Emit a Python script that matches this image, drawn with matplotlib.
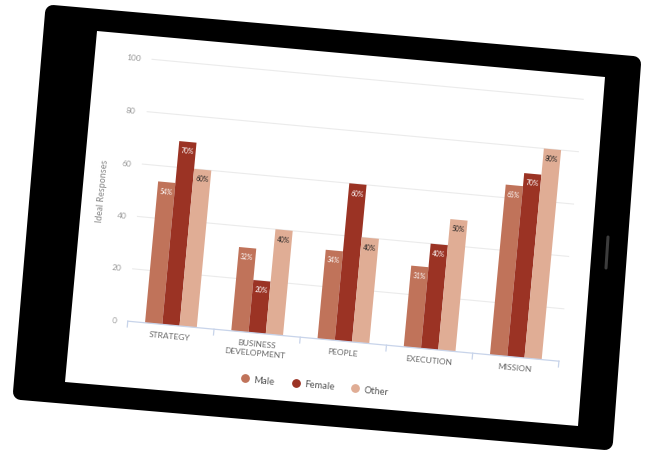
import numpy as np
import matplotlib
matplotlib.use('Agg')
import matplotlib.pyplot as plt
from matplotlib.patches import Polygon
from matplotlib.transforms import Affine2D

# Данные графика
categories = ['STRATEGY', 'BUSINESS\nDEVELOPMENT', 'PEOPLE', 'EXECUTION', 'MISSION']
male = [54, 32, 34, 31, 65]
female = [70, 20, 60, 40, 70]
other = [60, 40, 40, 50, 80]
series_names = ['Male', 'Female', 'Other']
series_colors = ['#c0735a', '#9b3324', '#e0ad95']
label_colors = ['white', 'white', '#222222']
y_ticks = [0, 20, 40, 60, 80, 100]
y_label = 'Ideal Responses'

plt.rcParams['font.family'] = ['Lato', 'DejaVu Sans']

W, H = 646, 452
fig = plt.figure(figsize=(W / 100, H / 100), dpi=100)
fig.patch.set_facecolor('white')

# Tablet frame (decoration, pixel coords, y down)
bg = fig.add_axes([0, 0, 1, 1])
bg.set_xlim(0, W)
bg.set_ylim(H, 0)
bg.axis('off')
outer = Polygon([(53, 14), (633, 65), (605, 443), (21, 393)], closed=True,
                facecolor='black', edgecolor='black', linewidth=11.5, joinstyle='round')
bg.add_patch(outer)
screen = Polygon([(97, 32), (605, 78), (578, 427), (65, 383)], closed=True,
                 facecolor='white', edgecolor='none')
bg.add_patch(screen)
bg.plot([608, 606], [238, 269], color='#3c3c3c', lw=2.2, solid_capstyle='round')

# Chart axes, rotated around its centre
cx, cy = 355.5, 240.75
aw, ah = 433, 263
ax = fig.add_axes([(cx - aw / 2) / W, (cy - ah / 2) / H, aw / W, ah / H])
ax.axis('off')
angle = -5.3
rt = ax.transData + Affine2D().rotate_deg_around(cx, cy, angle)

x = np.arange(len(categories))
width = 0.2

# gridlines
for t in y_ticks[1:]:
    ax.plot([-0.5, 4.5], [t, t], color='#ebebeb', lw=0.8, transform=rt, clip_on=False, zorder=1)
for t in y_ticks:
    ax.text(-0.63, t, str(t), ha='right', va='center', fontsize=6, color='#9a9a9a',
            rotation=angle, rotation_mode='anchor', transform=rt)

# bars
for i, (vals, c, lc) in enumerate(zip([male, female, other], series_colors, label_colors)):
    pos = x + (i - 1) * width
    ax.bar(pos, vals, width=width, color=c, transform=rt, clip_on=False, zorder=2)
    for p, v in zip(pos, vals):
        ax.text(p, v - 2.0, f'{v}%', ha='center', va='top', fontsize=4.8, color=lc,
                rotation=angle, rotation_mode='anchor', transform=rt, zorder=3)

# x axis line and ticks
ax.plot([-0.5, 4.5], [0, 0], color='#c8d4ea', lw=0.9, transform=rt, clip_on=False, zorder=3)
for b in np.arange(-0.5, 5.0, 1.0):
    ax.plot([b, b], [0, -2.2], color='#c8d4ea', lw=0.9, transform=rt, clip_on=False)
for xi, name in zip(x, categories):
    ax.text(xi, -2.6, name, ha='center', va='top', fontsize=6, color='#6b6b6b',
            linespacing=1.3, rotation=angle, rotation_mode='anchor', transform=rt)

ax.text(-0.93, 48.7, y_label, ha='center', va='center', fontsize=6.5, color='#8a8a8a',
        rotation=90 + angle, rotation_mode='anchor', transform=rt)

# legend
leg_x = [0.91, 1.5, 2.18]
for lx, name, c in zip(leg_x, series_names, series_colors):
    ax.scatter([lx], [-17.5], s=28, color=c, transform=rt, clip_on=False)
    ax.text(lx + 0.1, -17.5, name, ha='left', va='center', fontsize=6.8, color='#555555',
            rotation=angle, rotation_mode='anchor', transform=rt)

ax.set_xlim(-0.5, 4.5)
ax.set_ylim(0, 100)

plt.savefig('out.png', dpi=100)
